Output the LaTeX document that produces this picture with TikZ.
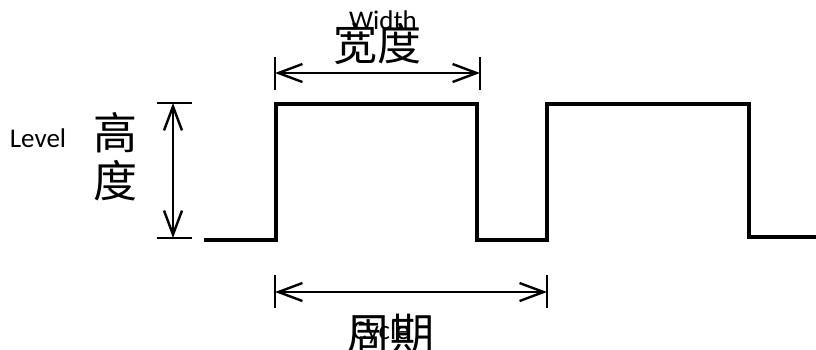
\documentclass[tikz,border=0pt]{standalone}
\usepackage{fontspec}
\setmainfont{Carlito}
\newfontfamily\cjk{Noto Sans CJK SC}
\usetikzlibrary{arrows.meta}
\begin{document}
\begin{tikzpicture}[x=1pt,y=-1pt,
  wave/.style={line width=3.2pt,line join=miter},
  tickline/.style={line width=2.6pt},
  barb/.tip={Straight Barb[length=24pt,width=18pt,line width=2.4pt]},
  dimline/.style={line width=2.6pt,barb-barb},
  cjklabel/.style={font=\cjk\fontsize{44}{44}\selectfont,inner sep=0pt},
  enlabel/.style={font=\fontsize{27}{27}\selectfont,inner sep=0pt}]
\useasboundingbox (0,0) rectangle (816,349);
% waveform
\coordinate (w0) at (204,240);
\coordinate (w1) at (276,240);
\coordinate (w2) at (276,104);
\coordinate (w3) at (477,104);
\coordinate (w4) at (477,240);
\coordinate (w5) at (547,240);
\coordinate (w6) at (547,104);
\coordinate (w7) at (749,104);
\coordinate (w8) at (749,237);
\coordinate (w9) at (816,237);
\draw[wave] (w0) -- (w1) -- (w2) -- (w3) -- (w4) -- (w5) -- (w6) -- (w7) -- (w8) -- (w9);
% width dimension
\coordinate (wa1) at (275,57); \coordinate (wa2) at (275,90);
\coordinate (wb1) at (480,57); \coordinate (wb2) at (480,90);
\coordinate (wl) at (275,73); \coordinate (wr) at (480,73);
\draw[tickline] (wa1) -- (wa2);
\draw[tickline] (wb1) -- (wb2);
\draw[dimline] (wl) -- (wr);
% level dimension
\coordinate (la1) at (157,103); \coordinate (la2) at (192,103);
\coordinate (lb1) at (157,238); \coordinate (lb2) at (192,238);
\coordinate (lt) at (173,103); \coordinate (lb) at (173,238);
\draw[tickline] (la1) -- (la2);
\draw[tickline] (lb1) -- (lb2);
\draw[dimline] (lt) -- (lb);
% cycle dimension
\coordinate (ca1) at (275,275); \coordinate (ca2) at (275,308);
\coordinate (cb1) at (547,275); \coordinate (cb2) at (547,308);
\coordinate (cl) at (275,292); \coordinate (cr) at (547,292);
\draw[tickline] (ca1) -- (ca2);
\draw[tickline] (cb1) -- (cb2);
\draw[dimline] (cl) -- (cr);
% labels
\node[cjklabel] (kd) at (377,44) {宽度};
\node[cjklabel] (gao) at (115,133) {高};
\node[cjklabel] (du) at (115,181) {度};
\node[cjklabel] (zq) at (390,334) {周期};
\node[enlabel] (width) at (383,20) {Width};
\node[enlabel] (level) at (38,138) {Level};
\node[enlabel] (cycle) at (381,332) {Cycle};
\end{tikzpicture}
\end{document}
